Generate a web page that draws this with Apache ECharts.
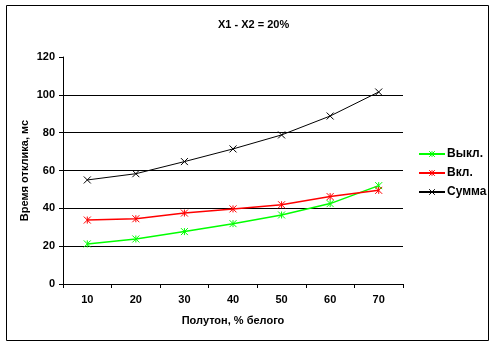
<!DOCTYPE html>
<html><head><meta charset="utf-8">
<script src="https://cdn.jsdelivr.net/npm/echarts@6/dist/echarts.min.js"></script>
<style>html,body{margin:0;padding:0;background:#fff}#c{width:494px;height:345px}</style>
</head><body><div id="c"></div>
<script>
const categories = ['10','20','30','40','50','60','70'];
const seriesNames = ['Выкл.','Вкл.','Сумма'];
const vykl = [21.2, 23.8, 27.7, 31.9, 36.5, 42.5, 52.0];
const vkl = [33.8, 34.5, 37.5, 39.7, 41.9, 46.2, 49.5];
const summa = [55.0, 58.3, 64.7, 71.4, 78.8, 88.8, 101.5];
const colors = ['#00ff00', '#ff0000', '#000000'];
const F = 'Liberation Sans, Arial, sans-serif';
const starPath = 'path://M0,0L10,10M10,0L0,10M5,0L5,10';
const xPath = 'path://M0,0L10,10M10,0L0,10';
const chart = echarts.init(document.getElementById('c'));
function mk(name, data, color, width, sym) {
  return {
    name, type: 'line', data, symbol: sym, symbolSize: 7,
    lineStyle: { color, width },
    itemStyle: { color: 'none', borderColor: color, borderWidth: 1 },
    animation: false
  };
}
chart.setOption({
  animation: false,
  title: { text: 'X1 - X2 = 20%', left: 213, top: 14,
    textStyle: { fontFamily: F, fontSize: 11, fontWeight: 'bold', color: '#000' } },
  graphic: [{ type: 'rect', shape: { x: 6.5, y: 5.5, width: 482, height: 335 },
    style: { fill: 'none', stroke: '#000', lineWidth: 1 } }],
  legend: {
    orient: 'vertical', left: 413, top: 143, itemGap: 7, itemWidth: 26, itemHeight: 7,
    data: seriesNames,
    itemStyle: { color: 'none', borderWidth: 1 },
    textStyle: { fontFamily: F, fontSize: 12, fontWeight: 'bold', color: '#000', padding: [0,0,0,-3] }
  },
  grid: { left: 63, right: 91, top: 57, bottom: 61, containLabel: false },
  xAxis: {
    type: 'category', data: categories, boundaryGap: true,
    name: 'Полутон, % белого', nameLocation: 'middle', nameGap: 31,
    nameTextStyle: { fontFamily: F, fontSize: 11, fontWeight: 'bold', color: '#000' },
    axisLine: { lineStyle: { color: '#000', width: 1 } },
    axisTick: { show: true, length: 4, inside: false, lineStyle: { color: '#000' } },
    axisLabel: { fontFamily: F, fontSize: 11, fontWeight: 'bold', color: '#000', margin: 10 },
    splitLine: { show: false }
  },
  yAxis: {
    type: 'value', min: 0, max: 120, interval: 20,
    name: 'Время отклика, мс', nameLocation: 'middle', nameGap: 33, nameRotate: 90,
    nameMoveOverlap: false,
    nameTextStyle: { fontFamily: F, fontSize: 11, fontWeight: 'bold', color: '#000' },
    axisLine: { show: true, lineStyle: { color: '#000', width: 1 } },
    axisTick: { show: true, length: 4, lineStyle: { color: '#000' } },
    axisLabel: { fontFamily: F, fontSize: 11, fontWeight: 'bold', color: '#000', margin: 8 },
    splitLine: { show: true, lineStyle: { color: ['#000','#000','#000','#000','#000','#000','rgba(0,0,0,0)'], width: 1 } }
  },
  series: [
    mk(seriesNames[0], vykl, colors[0], 1.5, starPath),
    mk(seriesNames[1], vkl, colors[1], 1.5, starPath),
    mk(seriesNames[2], summa, colors[2], 1, xPath)
  ]
});
</script></body></html>
